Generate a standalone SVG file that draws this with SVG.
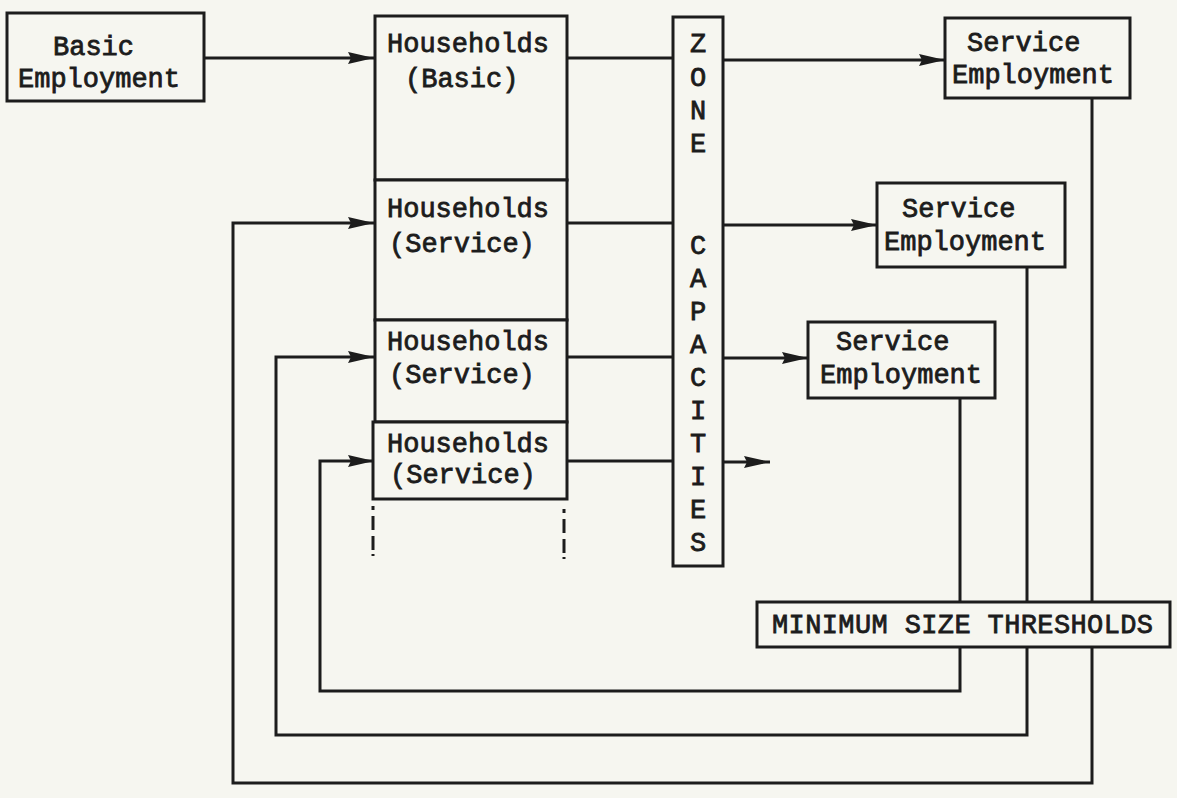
<svg xmlns="http://www.w3.org/2000/svg" width="1177" height="798" viewBox="0 0 1177 798">
<style>
.bx{fill:#f6f6f0;stroke:#1c1c1c;stroke-width:3}
.ln{fill:none;stroke:#1c1c1c;stroke-width:3;stroke-linejoin:miter}
.t{font-family:"Liberation Mono","Courier New",monospace;font-size:27px;fill:#1c1c1c;stroke:#1c1c1c;stroke-width:0.8}
.zl{text-anchor:middle}
.dash{fill:none;stroke:#1c1c1c;stroke-width:3;stroke-dasharray:4 6 14 6 14}
</style>
<defs>
<marker id="ah" markerUnits="userSpaceOnUse" markerWidth="26" markerHeight="14" refX="26" refY="7" orient="auto">
<path d="M0,1 L26,7 L0,13 L3,7 z" fill="#1c1c1c"/>
</marker>
</defs>
<rect width="1177" height="798" fill="#f6f6f0"/>
<g id="connectors">
<line class="ln" x1="205" y1="58" x2="374" y2="58" marker-end="url(#ah)"/>
<line class="ln" x1="567" y1="58" x2="673" y2="58"/>
<line class="ln" x1="567" y1="223" x2="673" y2="223"/>
<line class="ln" x1="567" y1="357" x2="673" y2="357"/>
<line class="ln" x1="567" y1="461" x2="673" y2="461"/>
<line class="ln" x1="723" y1="60" x2="945" y2="60" marker-end="url(#ah)"/>
<line class="ln" x1="723" y1="225" x2="877" y2="225" marker-end="url(#ah)"/>
<line class="ln" x1="723" y1="358" x2="808" y2="358" marker-end="url(#ah)"/>
<line class="ln" x1="723" y1="462" x2="770" y2="462" marker-end="url(#ah)"/>
<polyline class="ln" points="960,398 960,691 320,691 320,461 374,461" marker-end="url(#ah)"/>
<polyline class="ln" points="1027,267 1027,735 276,735 276,357 374,357" marker-end="url(#ah)"/>
<polyline class="ln" points="1092,98 1092,783 233,783 233,223 374,223" marker-end="url(#ah)"/>
<line class="dash" x1="373" y1="506" x2="373" y2="556"/>
<line class="dash" x1="564" y1="509" x2="564" y2="559"/>
</g>
<g id="basic-employment">
<rect class="bx" x="7" y="13" width="197" height="88"/>
<text class="t" x="53" y="55">Basic</text>
<text class="t" x="18" y="87">Employment</text>
</g>
<g id="households-basic">
<rect class="bx" x="375" y="16" width="192" height="164"/>
<text class="t" x="387" y="52">Households</text>
<text class="t" x="405" y="87">(Basic)</text>
</g>
<g id="households-service-1">
<rect class="bx" x="375" y="180" width="192" height="140"/>
<text class="t" x="387" y="217">Households</text>
<text class="t" x="389" y="252">(Service)</text>
</g>
<g id="households-service-2">
<rect class="bx" x="375" y="320" width="192" height="102"/>
<text class="t" x="387" y="350">Households</text>
<text class="t" x="389" y="383">(Service)</text>
</g>
<g id="households-service-3">
<rect class="bx" x="373" y="422" width="194" height="77"/>
<text class="t" x="387" y="452">Households</text>
<text class="t" x="390" y="483">(Service)</text>
</g>
<g id="zone-capacities">
<rect class="bx" x="673" y="17" width="50" height="549"/>
<text class="t zl" x="698" y="52">Z</text>
<text class="t zl" x="698" y="86">O</text>
<text class="t zl" x="698" y="119">N</text>
<text class="t zl" x="698" y="152">E</text>
<text class="t zl" x="698" y="254">C</text>
<text class="t zl" x="698" y="287">A</text>
<text class="t zl" x="698" y="320">P</text>
<text class="t zl" x="698" y="353">A</text>
<text class="t zl" x="698" y="386">C</text>
<text class="t zl" x="698" y="419">I</text>
<text class="t zl" x="698" y="452">T</text>
<text class="t zl" x="698" y="485">I</text>
<text class="t zl" x="698" y="518">E</text>
<text class="t zl" x="698" y="551">S</text>
</g>
<g id="service-employment-1">
<rect class="bx" x="945" y="18" width="185" height="80"/>
<text class="t" x="967" y="51">Service</text>
<text class="t" x="952" y="83">Employment</text>
</g>
<g id="service-employment-2">
<rect class="bx" x="877" y="183" width="188" height="84"/>
<text class="t" x="902" y="217">Service</text>
<text class="t" x="884" y="250">Employment</text>
</g>
<g id="service-employment-3">
<rect class="bx" x="808" y="322" width="187" height="76"/>
<text class="t" x="836" y="350">Service</text>
<text class="t" x="820" y="383">Employment</text>
</g>
<g id="minimum-size-thresholds">
<rect class="bx" x="757" y="602" width="413" height="45"/>
<text class="t" x="772" y="633" textLength="381">MINIMUM SIZE THRESHOLDS</text>
</g>
</svg>
